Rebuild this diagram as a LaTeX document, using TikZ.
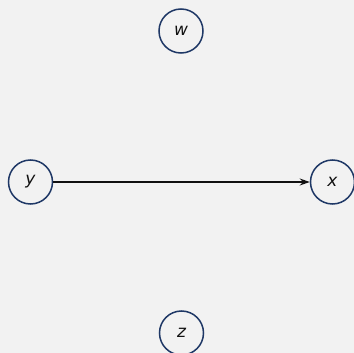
\documentclass[tikz,border=0pt]{standalone}
\usepackage{fontspec}
\setmainfont{DejaVu Sans}
\usepackage{tikz}
\usetikzlibrary{arrows.meta,positioning}
\definecolor{bgGray}{RGB}{242, 242, 242}
\definecolor{nodeRim}{RGB}{31, 56, 102}
\definecolor{inkBlack}{RGB}{17, 17, 17}

\begin{document}
\begin{tikzpicture}[x=1pt, y=-1pt,
    var/.style={circle, draw=nodeRim, line width=1.5pt, minimum size=44pt, inner sep=0pt,
        fill=bgGray, font=\fontsize{17pt}{19pt}\selectfont\itshape, text=inkBlack},
    edge/.style={-{Stealth[length=10pt, width=7pt]}, line width=1.3pt, inkBlack}]
    \fill[bgGray] (0,0) rectangle (354,353);
    \useasboundingbox (0,0) rectangle (354,353);

    \node[var] (w) at (181,31) {w};
    \node[var] (y) at (30.5,182) {y};
    \node[var] (x) at (332.5,182) {x};
    \node[var] (z) at (181.5,333) {z};

    \draw[edge] (y) -- (x);
\end{tikzpicture}
\end{document}
